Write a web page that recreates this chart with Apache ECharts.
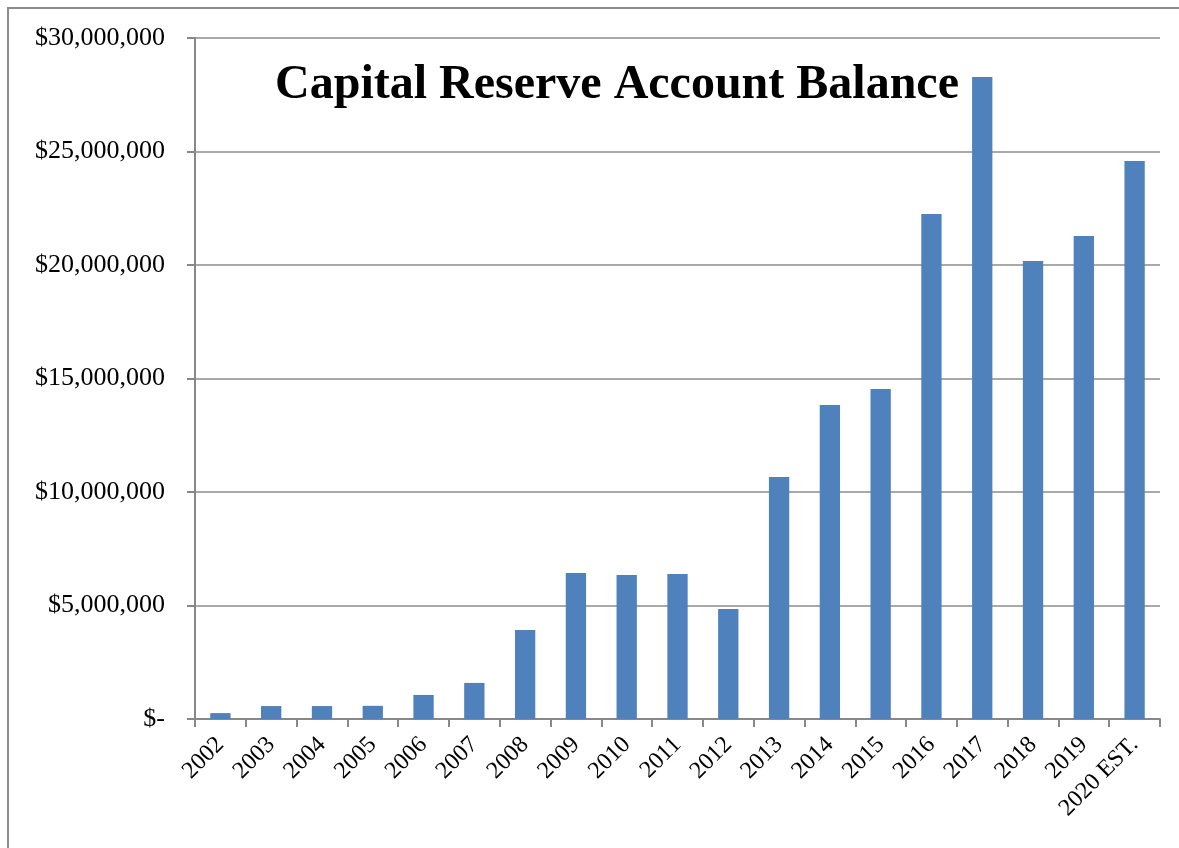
<!DOCTYPE html>
<html>
<head>
<meta charset="utf-8">
<script src="https://cdn.jsdelivr.net/npm/echarts@6/dist/echarts.min.js"></script>
<style>
  html, body { margin: 0; padding: 0; background: #fff; }
  #chart { width: 1179px; height: 848px; }
</style>
</head>
<body>
<div id="chart"></div>
<script>
const years = ['2002', '2003', '2004', '2005', '2006', '2007', '2008', '2009', '2010', '2011',
    '2012', '2013', '2014', '2015', '2016', '2017', '2018', '2019', '2020 EST.']
const balances = [260000, 570000, 570000, 580000, 1060000, 1590000, 3920000, 6430000, 6340000, 6390000,
    4850000, 10660000, 13830000, 14540000, 22250000, 28280000, 20180000, 21280000, 24580000]
const yTicks = [0, 5000000, 10000000, 15000000, 20000000, 25000000, 30000000]

const serif = '"Liberation Serif", "Times New Roman", serif'

// excel-ish accounting format, zero shows as "$-"
const money = v => v === 0 ? '$-' : '$' + v.toLocaleString('en-US')

const myChart = echarts.init(document.getElementById('chart'))

const option = {
    animation: false,
    backgroundColor: '#fff',
    title: {
        text: 'Capital Reserve Account Balance',
        left: 612,
        top: 57,
        textAlign: 'center',
        textStyle: {
            fontFamily: serif,
            fontSize: 48,
            fontWeight: 'bold',
            color: '#000'
        }
    },
    graphic: [
        {
            type: 'rect',
            shape: {x: 8, y: 8, width: 1200, height: 900},
            style: {fill: 'none', stroke: '#8c8c8c', lineWidth: 2},
            silent: true
        }
    ],
    grid: {
        left: 195,
        right: 19,
        top: 38,
        bottom: 129,
        containLabel: false
    },
    xAxis: {
        type: 'category',
        data: years,
        axisLine: {lineStyle: {color: '#888', width: 2}},
        axisTick: {show: true, length: 8, alignWithLabel: false, lineStyle: {color: '#888', width: 2}},
        axisLabel: {
            rotate: 45,
            margin: 22,
            interval: 0,
            fontFamily: serif,
            fontSize: 24,
            color: '#000'
        }
    },
    yAxis: {
        type: 'value',
        min: yTicks[0],
        max: yTicks[yTicks.length - 1],
        interval: yTicks[1] - yTicks[0],
        axisLine: {show: true, lineStyle: {color: '#888', width: 2}},
        axisTick: {show: true, length: 8, lineStyle: {color: '#888', width: 2}},
        splitLine: {lineStyle: {color: '#8c8c8c', width: 1.5}},
        axisLabel: {
            margin: 30,
            fontFamily: serif,
            fontSize: 26,
            color: '#000',
            formatter: money
        }
    },
    series: [
        {
            type: 'bar',
            data: balances,
            barWidth: '40%',
            itemStyle: {color: '#4f81bd'}
        }
    ]
}

option && myChart.setOption(option)
</script>
</body>
</html>
